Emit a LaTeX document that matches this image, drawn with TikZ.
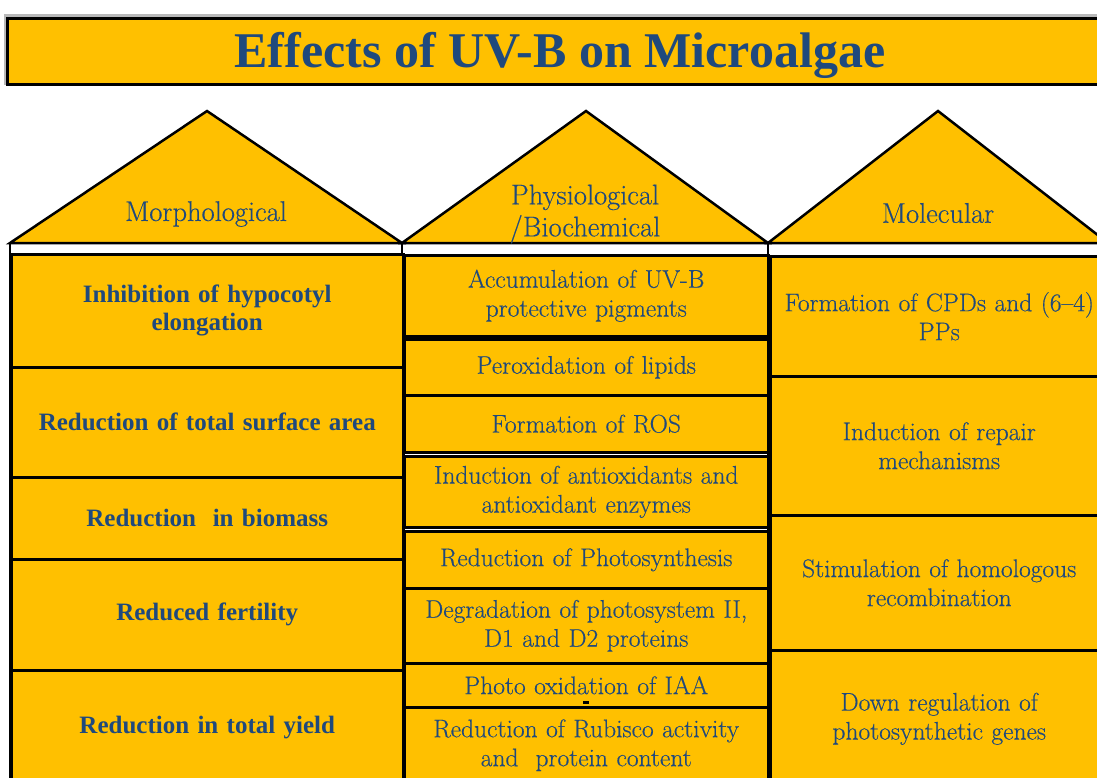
\documentclass[tikz,border=0pt]{standalone}
\usepackage{fontspec}
\newfontfamily\timesfont{Liberation Serif}
\newfontfamily\bodyfont{Latin Modern Roman}[FakeBold=0.35]
\definecolor{gold}{RGB}{255,192,0}
\definecolor{ink}{RGB}{31,73,125}
\newcommand{\lighttext}[2]{\bodyfont\fontsize{#1}{#2}\selectfont\spaceskip=0.2em plus 0.1em minus 0.05em\relax}
\tikzset{
  frame/.style={fill=white, draw=black, line width=2.5pt},
  roof/.style={fill=gold, draw=black, line width=2.5pt, line join=miter},
  roofhead/.style={text=ink, align=center, font=\lighttext{28.5}{32}},
  cell/.style={rectangle, fill=gold, draw=black, line width=2.5pt,
    anchor=north west, inner sep=0pt, align=center, text=ink},
  morph/.style={cell, minimum width=392pt, text width=380pt,
    font=\timesfont\bfseries\fontsize{25}{28}\selectfont},
  physio/.style={cell, minimum width=364pt, text width=355pt,
    font=\lighttext{25.5}{29}},
  molec/.style={cell, minimum width=338pt, text width=334pt,
    font=\lighttext{25.5}{29}},
}
\begin{document}
\begin{tikzpicture}[x=1pt,y=-1pt]
\useasboundingbox (0,0) rectangle (1097,777);
\clip (0,0) rectangle (1097,777);

% title banner
\fill[gray!55] (3.5,14) rectangle (1120,85);
\node (titlebox) [rectangle, fill=gold, draw=black, line width=3pt, anchor=north west,
  minimum width=1108pt, minimum height=66pt, inner sep=0pt] at (6,16.5) {};
\node (title) [anchor=base, inner sep=0pt, text=ink,
  font=\timesfont\bfseries\fontsize{50}{50}\selectfont] at (560,67)
  {Effects of UV-B on Microalgae};

% column frames
\draw[frame] (10,243) rectangle (402,800);
\draw[frame] (402,243) rectangle (768,800);
\draw[frame] (768,243) rectangle (1107,800);

% roofs
\draw[roof] (10,243) -- (207,111) -- (402,243) -- cycle;
\draw[roof] (402,243) -- (586,111) -- (768,243) -- cycle;
\draw[roof] (768,243) -- (938,111) -- (1108,243) -- cycle;
\node (hmorph) [roofhead] at (206,214) {Morphological};
\node (hphys) [roofhead] at (585,214) {Physiological\\/Biochemical};
\node (hmol) [roofhead] at (938,213) {Molecular};

% morphological effects
\node (m1) [morph, minimum height=113pt] at (10,253) {Inhibition of hypocotyl\\elongation};
\node (m2) [morph, minimum height=110pt] at (10,366) {Reduction of total surface area};
\node (m3) [morph, minimum height=82pt] at (10,476) {Reduction \ in biomass};
\node (m4) [morph, minimum height=111pt] at (10,558) {Reduced fertility};
\node (m5) [morph, minimum height=114pt] at (10,669) {Reduction in total yield};

% physiological / biochemical effects
\node (p1) [physio, minimum height=81pt] at (403,254) {Accumulation of UV-B\\protective pigments};
\node (p2) [physio, minimum height=56pt] at (403,338) {Peroxidation of lipids};
\node (p3) [physio, minimum height=57pt] at (403,394) {Formation of ROS};
\node (p4) [physio, minimum height=71pt] at (403,455) {Induction of antioxidants and\\antioxidant enzymes};
\node (p5) [physio, minimum height=57pt] at (403,530) {Reduction of Photosynthesis};
\node (p6) [physio, minimum height=75pt] at (403,587) {Degradation of photosystem II,\\D1 and D2 proteins};
\node (p7) [physio, minimum height=44pt] at (403,662) {Photo oxidation of IAA};
\node (p8) [physio, minimum height=76pt] at (403,706) {Reduction of Rubisco activity\\and \ protein content};
\fill[black] (583,701) rectangle (589,703.5);

% molecular effects
\node (r1) [molec, minimum height=120pt] at (769,255) {Formation of CPDs and (6–4)\\PPs};
\node (r2) [molec, minimum height=139pt] at (769,375) {Induction of repair\\mechanisms};
\node (r3) [molec, minimum height=135pt] at (769,514) {Stimulation of homologous\\recombination};
\node (r4) [molec, minimum height=137pt] at (769,649) {Down regulation of\\photosynthetic genes};
\end{tikzpicture}
\end{document}
